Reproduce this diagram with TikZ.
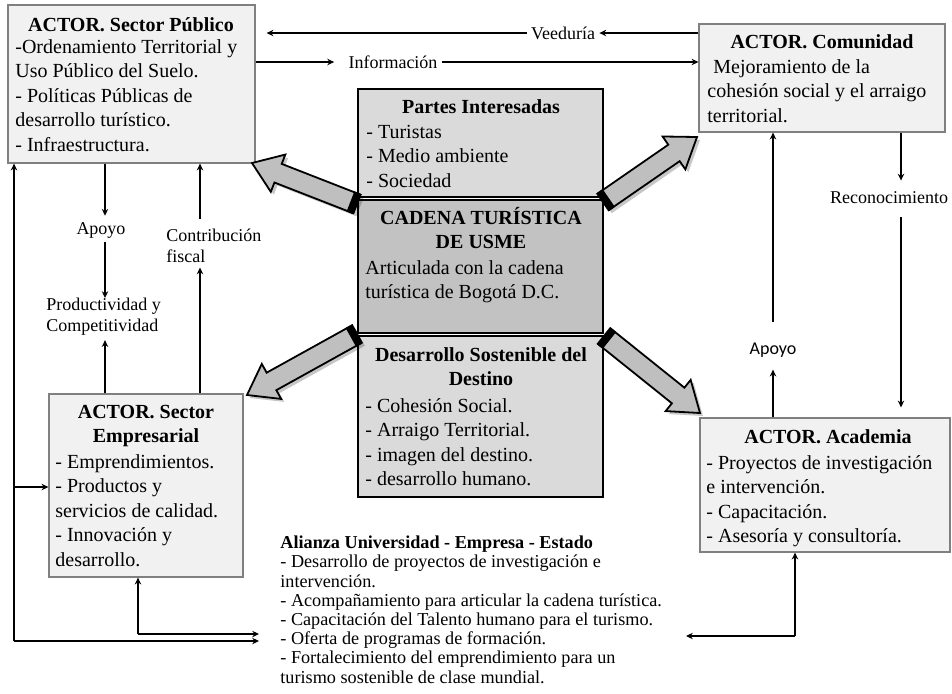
\documentclass[tikz,border=0pt]{standalone}
\usepackage{fontspec}
\setmainfont{Liberation Serif}
\newfontfamily\carlitofont{Carlito}
\usetikzlibrary{calc,fit,arrows.meta}
\definecolor{actorfill}{HTML}{F1F1F1}
\definecolor{actorline}{HTML}{808080}
\definecolor{lightfill}{HTML}{DADADA}
\definecolor{midfill}{HTML}{C2C2C2}
\definecolor{arrowfill}{HTML}{BFBFBF}
\tikzset{
  actor/.style={draw=actorline, fill=actorfill, line width=0.6pt, inner sep=0pt},
  central/.style={draw=black, fill=lightfill, line width=1.2pt, inner sep=0pt},
  boxtxt/.style={font=\fontsize{10}{12.25}\selectfont, align=left, inner sep=0pt, anchor=base west},
  boxttl/.style={font=\fontsize{10}{12.25}\selectfont\bfseries, align=center, inner sep=0pt, anchor=base},
  lbl/.style={font=\fontsize{9}{10.5}\selectfont, inner sep=2pt},
  alz/.style={font=\fontsize{9.1}{9.6}\selectfont, align=left, inner sep=0pt, anchor=base west},
  conn/.style={line width=0.75pt, -{Stealth[length=3.4pt,width=3.2pt]}},
}
\newcommand\blockarrow[3]{% #1 base, #2 tip, #3 prefix
  \coordinate (#3h) at ($(#2)!14pt!(#1)$);
  \coordinate (#3b) at ($(#1)!3.5pt!(#2)$);
  \coordinate (#3s1) at ($(#1)+(3,3)$);
  \coordinate (#3s2) at ($(#2)+(3,3)$);
  \coordinate (#3sh) at ($(#3h)+(3,3)$);
  \fill[black, opacity=0.22]
    ($(#3s1)!5pt!90:(#3s2)$) -- ($(#3sh)!5pt!90:(#3s2)$) -- ($(#3sh)!10pt!90:(#3s2)$) -- (#3s2)
    -- ($(#3sh)!10pt!-90:(#3s2)$) -- ($(#3sh)!5pt!-90:(#3s2)$) -- ($(#3s1)!5pt!-90:(#3s2)$) -- cycle;
  \draw[fill=arrowfill, line width=0.9pt, line join=miter]
    ($(#1)!5pt!90:(#2)$) -- ($(#3h)!5pt!90:(#2)$) -- ($(#3h)!10pt!90:(#2)$) -- (#2)
    -- ($(#3h)!10pt!-90:(#2)$) -- ($(#3h)!5pt!-90:(#2)$) -- ($(#1)!5pt!-90:(#2)$) -- cycle;
  \fill[black]
    ($(#1)!5.4pt!90:(#2)$) -- ($(#3b)!5.4pt!90:(#2)$) -- ($(#3b)!5.4pt!-90:(#2)$) -- ($(#1)!5.4pt!-90:(#2)$) -- cycle;
}
\begin{document}
\begin{tikzpicture}[x=0.5pt, y=-0.5pt]
\useasboundingbox (0,0) rectangle (952,693);

% ---------- actor boxes ----------
\node[actor, fit={(8,5)(255,163)}] (sp) {};
\node[boxttl] (spT) at (131,31) {ACTOR. Sector Público};
\node[boxtxt] (spB) at (15,151) {-Ordenamiento Territorial y\\Uso Público del Suelo.\\- Políticas Públicas de\\desarrollo turístico.\\- Infraestructura.};

\node[actor, fit={(699,24)(945,132)}] (com) {};
\node[boxttl] (comT) at (822,48) {ACTOR. Comunidad};
\node[boxtxt] (comB) at (707,122) {\hspace*{3pt}Mejoramiento de la\\cohesión social y el arraigo\\territorial.};

\node[actor, fit={(49,394)(243,577)}] (emp) {};
\node[boxttl] (empT) at (146,442.5) {ACTOR. Sector\\Empresarial};
\node[boxtxt] (empB) at (55,566) {- Emprendimientos.\\- Productos y\\servicios de calidad.\\- Innovación y\\desarrollo.};

\node[actor, fit={(700,418)(950,552)}] (aca) {};
\node[boxttl] (acaT) at (828,443) {ACTOR. Academia};
\node[boxtxt] (acaB) at (706,542.5) {- Proyectos de investigación\\e intervención.\\- Capacitación.\\- Asesoría y consultoría.};

% ---------- central column ----------
\node[central, fit={(358,89)(603,197)}] (pi) {};
\node[boxttl] (piT) at (481,113) {Partes Interesadas};
\node[boxtxt] (piB) at (366,187) {- Turistas\\- Medio ambiente\\- Sociedad};

\node[central, fill=midfill, fit={(358,200)(603,333)}] (cad) {};
\node[boxttl] (cadT) at (481,248.5) {CADENA TURÍSTICA\\DE USME};
\node[boxtxt] (cadB) at (365,298.5) {Articulada con la cadena\\turística de Bogotá D.C.};

\node[central, fit={(358,336)(603,497)}] (des) {};
\node[boxttl] (desT) at (481,385.5) {Desarrollo Sostenible del\\Destino};
\node[boxtxt] (desB) at (365,485.5) {- Cohesión Social.\\- Arraigo Territorial.\\- imagen del destino.\\- desarrollo humano.};

% ---------- labels ----------
\node[lbl] (vee) at (563,33) {Veeduría};
\node[lbl] (inf) at (393,62) {Información};
\node[lbl] (rec) at (889,198) {Reconocimiento};
\node[lbl, font=\carlitofont\fontsize{9}{10.5}\selectfont] (apR) at (773,350) {Apoyo};
\node[lbl] (apL) at (101,230) {Apoyo};
\node[lbl, align=left, anchor=north west, inner sep=0pt] (prod) at (46,298) {Productividad y\\Competitividad};
\node[lbl, align=left, anchor=north west, inner sep=0pt] (con) at (166,229) {Contribución\\fiscal};

\node[alz] (al) at (280,683) {\textbf{Alianza Universidad - Empresa - Estado}\\- Desarrollo de proyectos de investigación e\\intervención.\\- Acompañamiento para articular la cadena turística.\\- Capacitación del Talento humano para el turismo.\\- Oferta de programas de formación.\\- Fortalecimiento del emprendimiento para un\\turismo sostenible de clase mundial.};

% ---------- coordinates for connector columns ----------
\coordinate (xa) at (105,0);
\coordinate (xc) at (200,0);
\coordinate (xr) at (773,0);
\coordinate (xq) at (901,0);
\coordinate (L1) at (14,641);
\coordinate (L2) at (14,487);
\coordinate (E1) at (138,634);
\coordinate (R1) at (795,636);
\coordinate (R2) at (686,636);

% ---------- top connectors ----------
\draw[conn] (com.west |- vee) -- (vee.east);
\draw[conn, shorten >=5.5pt] (vee.west) -- (sp.east |- vee);
\draw[conn, shorten >=5pt] (sp.east |- inf) -- (inf.west);
\draw[conn] (inf.east) -- (com.west |- inf);

% ---------- left connectors ----------
\draw[conn, shorten >=1pt] (sp.south -| xa) -- (apL.north -| xa);
\draw[conn] (apL.south -| xa) -- (prod.north -| xa);
\draw[conn, shorten >=2pt] (emp.north -| xa) -- (prod.south -| xa);
\draw[conn, shorten >=2pt] (emp.north -| xc) -- (con.south -| xc);
\draw[conn, shorten <=5pt] (con.north -| xc) -- (sp.south -| xc);

% ---------- right connectors ----------
\draw[conn, shorten >=4pt] (aca.north -| xr) -- (apR.south -| xr);
\draw[conn, shorten <=8pt] (apR.north -| xr) -- (com.south -| xr);
\draw[conn, shorten >=3.5pt] (com.south -| xq) -- (rec.north -| xq);
\draw[conn, shorten <=4.5pt, shorten >=5pt] (rec.south -| xq) -- (aca.north -| xq);

% ---------- bottom connectors ----------
\draw[conn] (L1) -- (L1 |- sp.south);
\draw[conn, shorten >=10.5pt] (L1) -- (L1 -| al.west);
\draw[conn] (L2) -- (L2 -| emp.west);
\draw[conn] (E1) -- (E1 |- emp.south);
\draw[conn, shorten >=10.5pt] (E1) -- (E1 -| al.west);
\draw[conn] (R1) -- (R1 |- aca.south);
\draw[conn] (R1) -- (R2);

% ---------- block arrows ----------
\coordinate (a1b) at (357,204); \coordinate (a1t) at (252,163);
\coordinate (a2b) at (603,202); \coordinate (a2t) at (697,137);
\coordinate (a3b) at (357,334); \coordinate (a3t) at (247,395);
\coordinate (a4b) at (604,336); \coordinate (a4t) at (700,413);
\blockarrow{a1b}{a1t}{ka}
\blockarrow{a2b}{a2t}{kb}
\blockarrow{a3b}{a3t}{kc}
\blockarrow{a4b}{a4t}{kd}
\end{tikzpicture}
\end{document}
